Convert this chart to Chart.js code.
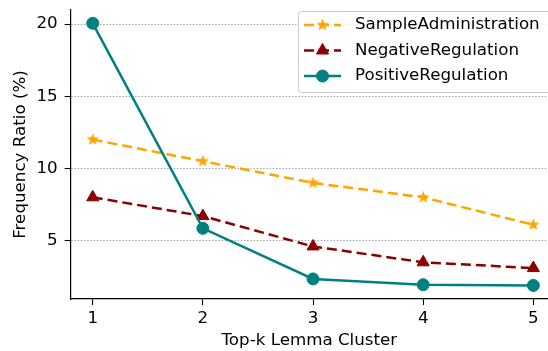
<!DOCTYPE html>
<html>
<head>
<meta charset="utf-8">
<script src="https://cdn.jsdelivr.net/npm/chart.js@4.4.1/dist/chart.umd.min.js"></script>
<style>
html, body { margin: 0; padding: 0; background: #fff; }
</style>
</head>
<body>
<canvas id="chart" width="548" height="351"></canvas>
<script>
// data
const clusters = [1, 2, 3, 4, 5];
const sampleAdmin = [12.0, 10.5, 9.0, 8.0, 6.1];
const negativeReg = [8.0, 6.7, 4.6, 3.5, 3.1];
const positiveReg = [20.05, 5.85, 2.35, 1.95, 1.9];
const yTicks = [5, 10, 15, 20];
const seriesNames = ['SampleAdministration', 'NegativeRegulation', 'PositiveRegulation'];

const FONT = { family: "'DejaVu Sans', sans-serif", size: 16.7 };

// filled star marker (chart.js 'star' is outline only)
function makeStar(r, color) {
    const c = document.createElement('canvas');
    c.width = c.height = Math.ceil(r * 2 + 2);
    const g = c.getContext('2d');
    const cx = c.width / 2, cy = c.height / 2;
    g.beginPath();
    for (let i = 0; i < 10; i++) {
        const rad = i % 2 === 0 ? r : r * 0.42;
        const a = -Math.PI / 2 + i * Math.PI / 5;
        g.lineTo(cx + rad * Math.cos(a), cy + rad * Math.sin(a));
    }
    g.closePath();
    g.fillStyle = color;
    g.fill();
    return c;
}
const starImg = makeStar(6.5, '#FFA500');

function pts(vals) {
    return clusters.map((x, i) => ({ x: x, y: vals[i] }));
}

const datasets = [
    {
        label: seriesNames[0],
        data: pts(sampleAdmin),
        borderColor: '#FFA500',
        backgroundColor: '#FFA500',
        borderWidth: 2.5,
        borderDash: [10, 5],
        pointStyle: starImg,
        pointRadius: 6.5,
        order: 2
    },
    {
        label: seriesNames[1],
        data: pts(negativeReg),
        borderColor: '#8B0000',
        backgroundColor: '#8B0000',
        borderWidth: 2.5,
        borderDash: [10, 5],
        pointStyle: 'triangle',
        pointRadius: 7,
        pointBorderWidth: 1,
        order: 1
    },
    {
        label: seriesNames[2],
        data: pts(positiveReg),
        borderColor: '#008080',
        backgroundColor: '#008080',
        borderWidth: 2.5,
        pointStyle: 'circle',
        pointRadius: 6,
        pointBorderWidth: 1,
        order: 0
    }
];

// matplotlib-ish legend box in the upper right
const boxLegend = {
    id: 'boxLegend',
    afterDraw(chart) {
        const ctx = chart.ctx;
        const x0 = 298.5, y0 = 11.5, w = 260, h = 81;
        ctx.save();
        ctx.beginPath();
        ctx.roundRect(x0, y0, w, h, 3);
        ctx.fillStyle = 'rgba(255,255,255,0.8)';
        ctx.fill();
        ctx.strokeStyle = '#cccccc';
        ctx.lineWidth = 1;
        ctx.stroke();
        const rows = [25, 50.5, 76];
        datasets.forEach((ds, i) => {
            const y = rows[i];
            ctx.beginPath();
            ctx.setLineDash(ds.borderDash || []);
            ctx.strokeStyle = ds.borderColor;
            ctx.lineWidth = ds.borderWidth;
            ctx.moveTo(304, y);
            ctx.lineTo(341, y);
            ctx.stroke();
            ctx.setLineDash([]);
            ctx.fillStyle = ds.backgroundColor;
            ctx.strokeStyle = ds.borderColor;
            ctx.lineWidth = 1;
            Chart.helpers.drawPoint(ctx, {
                pointStyle: ds.pointStyle,
                radius: ds.pointRadius,
                rotation: 0,
                borderWidth: 1
            }, 322.5, y);
            ctx.fillStyle = '#000';
            ctx.font = FONT.size + 'px ' + FONT.family;
            ctx.textBaseline = 'middle';
            ctx.fillText(ds.label, 355, y);
        });
        ctx.restore();
    }
};

new Chart(document.getElementById('chart').getContext('2d'), {
    type: 'line',
    data: { datasets: datasets },
    options: {
        responsive: false,
        animation: false,
        layout: { autoPadding: false, padding: { top: 10, right: 0, left: 0, bottom: 0 } },
        plugins: { legend: { display: false }, tooltip: { enabled: false } },
        elements: { line: { tension: 0 } },
        scales: {
            x: {
                type: 'linear',
                min: 0.8,
                max: 5.133,
                afterBuildTicks: s => { s.ticks = clusters.map(v => ({ value: v })); },
                afterFit: s => { s.height = 52; s.paddingLeft = 0; s.paddingRight = 0; },
                grid: { drawOnChartArea: false, drawTicks: true, tickLength: 6, tickColor: '#000', tickWidth: 1.1 },
                border: { display: true, color: '#000', width: 1.2 },
                ticks: { font: FONT, color: '#000', padding: 4, maxRotation: 0 },
                title: { display: true, text: 'Top-k Lemma Cluster', font: FONT, color: '#000', padding: { top: 0, bottom: 0 } }
            },
            y: {
                min: 0.96,
                max: 20.97,
                afterBuildTicks: s => { s.ticks = yTicks.map(v => ({ value: v })); },
                afterFit: s => { s.width = 70.7; s.paddingTop = 0; s.paddingBottom = 0; },
                grid: { color: '#999', lineWidth: 1, tickLength: 6, tickColor: '#000', tickWidth: 1.1 },
                border: { display: true, color: '#000', width: 1.2, dash: [1.3, 1.9] },
                ticks: { font: FONT, color: '#000', padding: 7 },
                title: { display: true, text: 'Frequency Ratio (%)', font: FONT, color: '#000', padding: { top: 10.7, bottom: 0 } }
            }
        }
    },
    plugins: [boxLegend]
});
</script>
</body>
</html>
